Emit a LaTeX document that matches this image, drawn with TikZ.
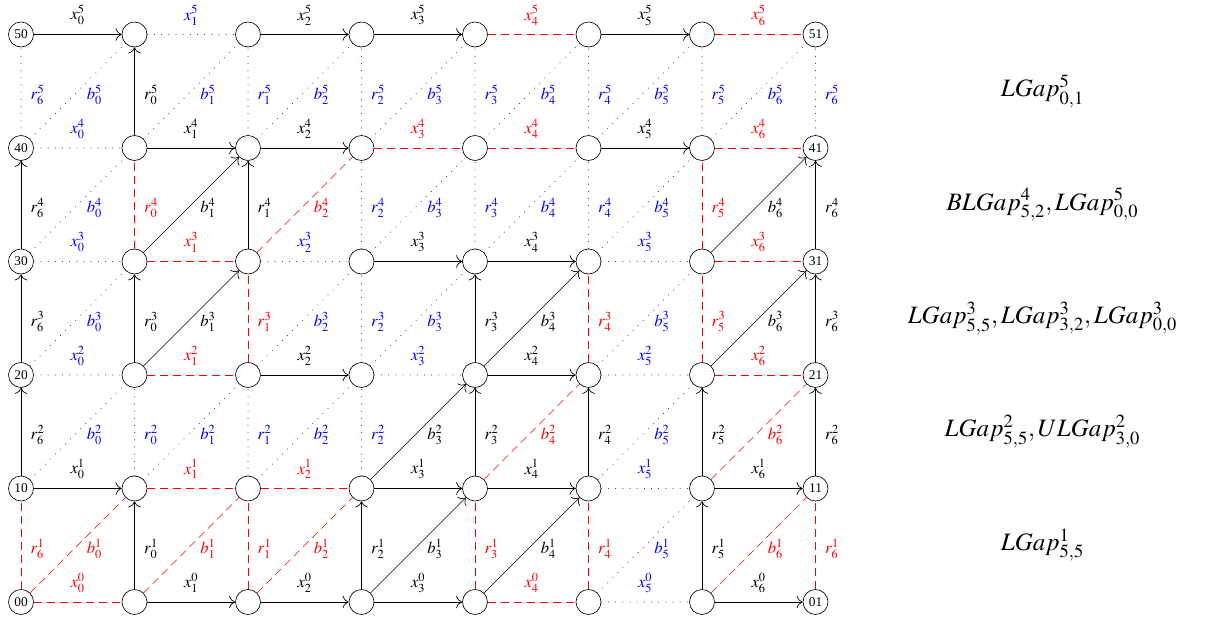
\documentclass[tikz,border=0pt]{standalone}
\usepackage{mathptmx}
\usepackage{fontspec}
\setmainfont{Liberation Serif}
\usetikzlibrary{arrows.meta}
\begin{document}
\begin{tikzpicture}[x=68.1pt,y=68.1pt,
  >={To[scale=1.45]},
  vtx/.style={circle,draw,minimum size=15pt,inner sep=0pt,font=\footnotesize},
  S/.style={black,->},
  R/.style={red,dash pattern=on 4.8pt off 3pt},
  B/.style={blue,line width=0.6pt,line cap=round,dash pattern=on 0pt off 4.3pt},
  hl/.style={midway,yshift=11.5pt},
  vl/.style={midway,xshift=10pt,yshift=-2pt},
  gap/.style={font=\fontsize{15}{18}\selectfont}]
\useasboundingbox (-12.6pt,-13.2pt) rectangle (713.4pt,361.2pt);
% vertices
\foreach \j in {0,...,5}{
  \foreach \i in {1,...,6}{ \node[vtx] (n-\i-\j) at (\i,\j) {}; }
}
\foreach \j/\a/\b in {0/00/01,1/10/11,2/20/21,3/30/31,4/40/41,5/50/51}{
  \node[vtx] (n-0-\j) at (0,\j) {\a};
  \node[vtx] (n-7-\j) at (7,\j) {\b};
}
% horizontal edges x^j_i
\foreach \j/\lst in {
  5/{S,B,S,S,R,S,R},
  4/{B,S,S,R,R,S,R},
  3/{B,R,B,S,S,B,R},
  2/{B,R,S,B,S,B,R},
  1/{S,R,R,S,S,B,S},
  0/{R,S,S,S,R,B,S}}{
  \foreach \s [count=\c from 0] in \lst {
    \pgfmathtruncatemacro\cc{\c+1}
    \draw[\s] (n-\c-\j) -- (n-\cc-\j) node[hl] {$x^{\j}_{\c}$};
  }
}
% vertical edges r^j_{i-1}
\foreach \j/\lst in {
  5/{B,S,B,B,B,B,B,B},
  4/{S,R,S,B,B,B,R,S},
  3/{S,S,R,B,S,R,R,S},
  2/{S,B,B,B,S,S,S,S},
  1/{R,S,R,S,R,R,S,R}}{
  \pgfmathtruncatemacro\jj{\j-1}
  \foreach \s [count=\c from 0] in \lst {
    \pgfmathtruncatemacro\k{\c==0 ? 6 : \c-1}
    \draw[\s] (n-\c-\jj) -- (n-\c-\j) node[vl] {$r^{\j}_{\k}$};
  }
}
% diagonal edges b^j_i
\foreach \j/\lst in {
  5/{B,B,B,B,B,B,B},
  4/{B,S,R,B,B,B,S},
  3/{B,S,B,B,S,B,S},
  2/{B,B,B,S,R,B,R},
  1/{R,R,R,S,S,B,R}}{
  \pgfmathtruncatemacro\jj{\j-1}
  \foreach \s [count=\c from 0] in \lst {
    \pgfmathtruncatemacro\cc{\c+1}
    \draw[\s] (n-\c-\jj) -- (n-\cc-\j) node[vl] {$b^{\j}_{\c}$};
  }
}
% gap labels
\node[gap] (g5) at (9,4.5) {$LGap^{5}_{0,1}$};
\node[gap] (g4) at (9,3.5) {$BLGap^{4}_{5,2}, LGap^{5}_{0,0}$};
\node[gap] (g3) at (9,2.5) {$LGap^{3}_{5,5}, LGap^{3}_{3,2}, LGap^{3}_{0,0}$};
\node[gap] (g2) at (9,1.5) {$LGap^{2}_{5,5}, ULGap^{2}_{3,0}$};
\node[gap] (g1) at (9,0.5) {$LGap^{1}_{5,5}$};
\end{tikzpicture}
\end{document}
